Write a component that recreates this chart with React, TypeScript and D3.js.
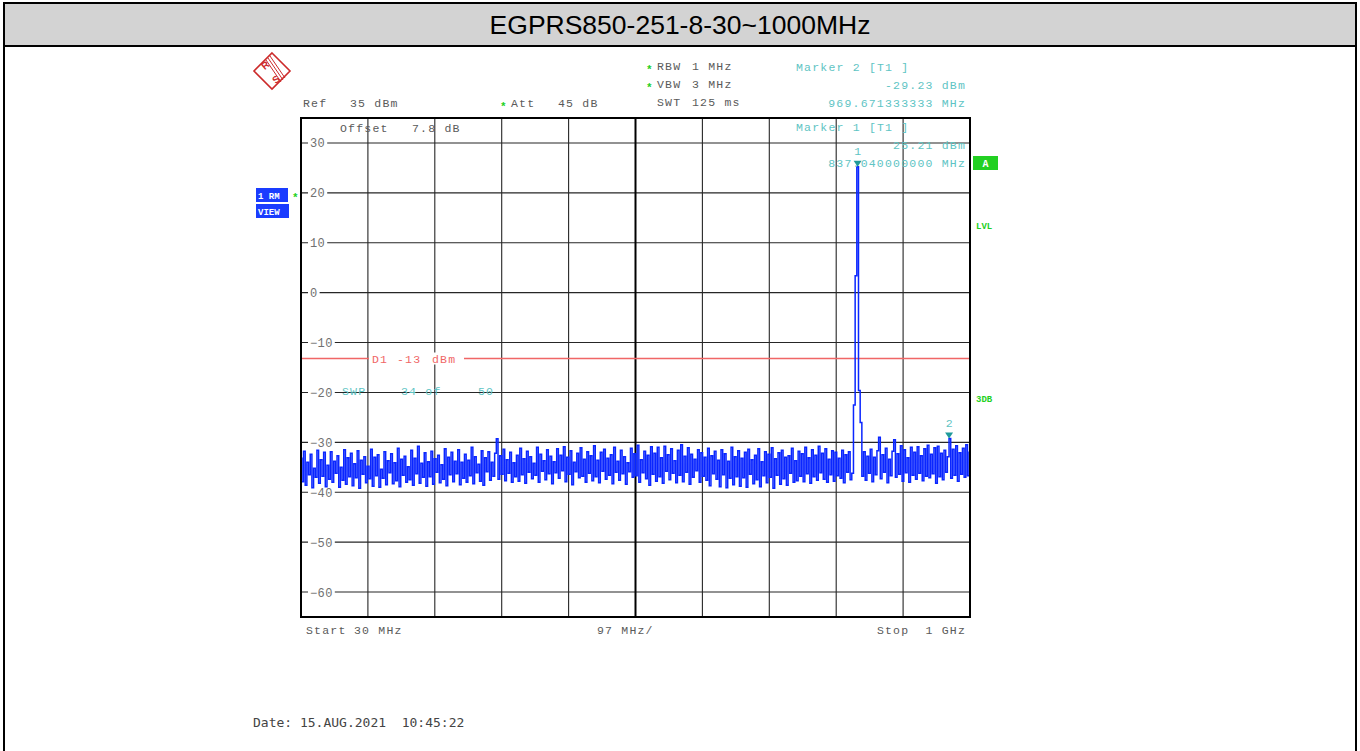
import * as d3 from "d3";

// sweep settings
const startMHz = 30;
const stopMHz = 1000;
const refLevel = 35;
const bottomLevel = -65;
const yTicks = [30, 20, 10, 0, -10, -20, -30, -40, -50, -60];
const displayLine = -13;

// trace levels (dBm), 400 points evenly spread from 30 MHz to 1 GHz
const traceLevels = [
  -33.2,-37.9,-31.8,-38.6,-34.0,-36.5,-32.4,-39.1,-35.2,-37.0,
  -31.6,-38.2,-33.5,-36.8,-32.0,-38.9,-34.6,-37.4,-31.9,-38.0,
  -33.8,-36.2,-32.7,-39.0,-35.0,-37.6,-31.5,-38.4,-33.1,-36.9,
  -32.2,-38.7,-34.3,-37.1,-31.7,-39.2,-33.6,-36.4,-32.9,-38.1,
  -34.8,-37.3,-31.4,-38.8,-33.0,-36.7,-32.5,-39.0,-35.4,-37.2,
  -31.9,-38.5,-33.7,-36.1,-32.3,-38.3,-34.1,-37.7,-31.2,-38.9,
  -33.4,-36.6,-32.8,-38.0,-34.9,-37.5,-31.6,-38.6,-33.2,-36.3,
  -30.8,-38.2,-34.2,-37.0,-32.1,-38.8,-33.9,-36.9,-31.8,-38.4,
  -33.3,-36.0,-32.6,-38.1,-34.5,-37.4,-31.3,-38.7,-33.0,-36.5,
  -32.0,-37.9,-33.8,-36.3,-31.5,-38.5,-34.0,-37.2,-32.4,-38.0,
  -33.6,-36.7,-31.0,-38.3,-32.9,-36.1,-34.4,-37.8,-31.7,-38.6,
  -33.1,-35.9,-31.9,-37.6,-34.0,-36.8,-32.2,-29.3,-37.4,-32.7,
  -36.4,-31.4,-37.7,-33.5,-36.2,-32.0,-38.0,-34.1,-36.9,-32.6,
  -37.8,-31.2,-36.5,-33.3,-38.2,-31.8,-36.0,-32.9,-37.3,-34.2,
  -36.6,-31.0,-38.0,-32.4,-35.8,-33.7,-37.5,-31.5,-36.3,-32.8,
  -38.3,-33.9,-36.1,-31.3,-37.2,-32.6,-35.7,-30.9,-37.9,-33.0,
  -36.4,-31.7,-38.5,-34.0,-35.9,-32.2,-37.1,-31.1,-36.8,-33.4,
  -38.0,-31.9,-36.2,-32.7,-37.7,-30.7,-36.9,-33.6,-38.1,-32.0,
  -35.8,-31.4,-37.4,-33.2,-36.6,-32.5,-38.3,-31.0,-36.0,-33.8,
  -37.6,-31.6,-36.3,-32.9,-38.4,-34.1,-35.9,-31.2,-37.0,-32.3,
  -36.7,-30.6,-38.0,-33.5,-36.1,-31.8,-37.3,-32.6,-38.6,-30.9,
  -36.4,-32.2,-37.8,-31.0,-36.9,-33.1,-38.2,-30.8,-35.8,-32.5,
  -37.5,-31.3,-36.2,-33.7,-38.1,-31.6,-36.6,-30.5,-37.9,-32.8,
  -36.0,-31.1,-38.4,-32.4,-37.0,-33.4,-35.7,-31.5,-38.0,-32.1,
  -36.8,-33.0,-37.6,-31.2,-38.7,-32.7,-36.3,-31.8,-37.4,-33.6,
  -38.9,-31.5,-36.5,-32.3,-39.1,-33.8,-37.2,-31.0,-38.5,-32.9,
  -36.9,-31.7,-38.8,-33.2,-37.1,-32.0,-39.0,-31.4,-36.4,-33.5,
  -38.3,-32.6,-37.5,-31.3,-38.9,-33.9,-36.7,-31.9,-38.1,-32.4,
  -37.0,-31.1,-39.2,-33.3,-36.6,-32.1,-38.4,-31.6,-37.3,-33.0,
  -38.6,-32.7,-36.2,-31.2,-38.0,-33.7,-37.7,-31.8,-36.8,-32.3,
  -37.9,-31.0,-36.3,-33.1,-38.2,-31.5,-36.9,-32.6,-37.6,-30.8,
  -36.1,-32.2,-37.4,-31.3,-38.0,-33.4,-36.5,-31.7,-37.8,-32.0,
  -36.7,-33.2,-37.2,-31.6,-38.1,-32.5,-36.0,-31.9,-37.5,-36.2,
  -22.5,3.4,25.21,-19.6,-26.0,
  -36.8,-31.9,-37.6,-32.8,-36.2,-31.4,-37.9,-33.0,-36.5,-31.7,
  -29.0,-37.3,-32.5,-36.0,-31.2,-38.1,-33.4,-36.7,-31.8,-29.5,
  -37.0,-32.3,-36.4,-30.7,-37.8,-31.5,-36.1,-33.1,-38.0,-31.0,
  -36.6,-32.0,-37.4,-30.9,-36.2,-32.7,-37.7,-31.3,-36.8,-30.6,
  -37.1,-32.4,-36.3,-31.1,-38.2,-30.8,-36.9,-32.2,-37.5,-31.6,
  -36.0,-32.9,-29.23,-37.2,-31.4,-36.6,-30.7,-37.8,-32.1,-36.4,
  -31.2,-37.0,-30.5,-36.7,-32.0,
];

// markers
const markerIds = ["1", "2"];
const markerFreqs = [837.04, 969.671333333];
const markerLevels = [25.21, -29.23];

const mono = "'Liberation Mono', 'DejaVu Sans Mono', monospace";
const grey = "#5a5a5a";
const teal = "#5ec4c4";
const tealDark = "#1f9a9a";
const green = "#22d022";
const blue = "#0a26ff";
const red = "#f06666";

const plot = { left: 301, right: 970, top: 118, bottom: 617 };

function MonoText(props: {
  x: number;
  y: number;
  fill?: string;
  anchor?: string;
  children: any;
}) {
  return (
    <text
      x={props.x}
      y={props.y}
      fill={props.fill || grey}
      fontFamily={mono}
      fontSize={11.5}
      letterSpacing={1.2}
      textAnchor={props.anchor || "start"}
      style={{ whiteSpace: "pre" }}
    >
      {props.children}
    </text>
  );
}

function Star(props: { x: number; y: number }) {
  return (
    <text x={props.x} y={props.y} fill={green} fontFamily={mono} fontSize={11} fontWeight="bold">
      *
    </text>
  );
}

export default function App() {
  const x = d3.scaleLinear().domain([startMHz, stopMHz]).range([plot.left, plot.right]);
  const y = d3.scaleLinear().domain([bottomLevel, refLevel]).range([plot.bottom, plot.top]);

  const n = traceLevels.length;
  const traceFreqs = traceLevels.map((_, i) => startMHz + (i * (stopMHz - startMHz)) / (n - 1));
  const tracePath = d3
    .line<number>()
    .x((_, i) => x(traceFreqs[i]))
    .y((d) => y(d))
    .curve(d3.curveStep)(traceLevels) as string;

  const vLines = d3.range(1, 10).map((k) => startMHz + (k * (stopMHz - startMHz)) / 10);
  const dy = Math.round(y(displayLine)) + 0.5;

  return (
    <svg
      width={1360}
      height={751}
      style={{ position: "absolute", left: 0, top: 0, display: "block", background: "#fff" }}
    >
      {/* page frame and title bar */}
      <rect x={4} y={3} width={1352} height={42} fill="#d3d3d3" />
      <line x1={3} y1={3} x2={1357} y2={3} stroke="#000" strokeWidth={2} />
      <line x1={3} y1={46} x2={1357} y2={46} stroke="#000" strokeWidth={2} />
      <line x1={4} y1={2} x2={4} y2={751} stroke="#000" strokeWidth={2} />
      <line x1={1356} y1={2} x2={1356} y2={751} stroke="#000" strokeWidth={2} />
      <text
        x={680}
        y={34}
        textAnchor="middle"
        fontFamily="'Liberation Sans', Arial, sans-serif"
        fontSize={26.5}
        fill="#000"
      >
        EGPRS850-251-8-30~1000MHz
      </text>

      {/* R&S logo */}
      <g stroke="#cc2a2a" fill="none">
        <polygon points="272,53 290,71 272,89 254,71" strokeWidth={1.6} fill="#fff" />
        <line x1={266} y1={60} x2={281} y2={82} strokeWidth={1} />
        <line x1={268} y1={58} x2={283} y2={80} strokeWidth={1} />
        <line x1={270} y1={56} x2={285} y2={78} strokeWidth={1} />
      </g>
      <text x={262} y={69} fill="#cc2a2a" fontFamily="'Liberation Sans', sans-serif" fontSize={10} fontWeight="bold" transform="rotate(-40 265 66)">
        R
      </text>
      <text x={273} y={83} fill="#cc2a2a" fontFamily="'Liberation Sans', sans-serif" fontSize={10} fontWeight="bold" transform="rotate(-40 276 80)">
        S
      </text>

      {/* header settings */}
      <Star x={646} y={73} />
      <MonoText x={657} y={70}>RBW</MonoText>
      <MonoText x={692} y={70}>1 MHz</MonoText>
      <Star x={646} y={91} />
      <MonoText x={657} y={88}>VBW</MonoText>
      <MonoText x={692} y={88}>3 MHz</MonoText>
      <MonoText x={657} y={106}>SWT</MonoText>
      <MonoText x={692} y={106}>125 ms</MonoText>
      <MonoText x={303} y={107}>Ref</MonoText>
      <MonoText x={350} y={107}>35 dBm</MonoText>
      <Star x={500} y={110} />
      <MonoText x={511} y={107}>Att</MonoText>
      <MonoText x={558} y={107}>45 dB</MonoText>

      <MonoText x={796} y={71} fill={teal}>Marker 2 [T1 ]</MonoText>
      <MonoText x={966} y={89} fill={teal} anchor="end">-29.23 dBm</MonoText>
      <MonoText x={966} y={107} fill={teal} anchor="end">969.671333333 MHz</MonoText>

      {/* grid */}
      {yTicks.map((t) => (
        <line key={"h" + t} x1={plot.left} x2={plot.right} y1={y(t)} y2={y(t)} stroke="#262626" strokeWidth={1.1} />
      ))}
      {vLines.map((f, i) => (
        <line
          key={"v" + i}
          x1={x(f)}
          x2={x(f)}
          y1={plot.top}
          y2={plot.bottom}
          stroke={i === 4 ? "#000" : "#262626"}
          strokeWidth={i === 4 ? 2 : 1.1}
        />
      ))}
      {yTicks.map((t) => {
        const label = t < 0 ? "\u2212" + Math.abs(t) : String(t);
        return (
          <g key={"l" + t}>
            <rect x={308} y={y(t) - 5} width={label.length * 7.6 + 4} height={10} fill="#fff" />
            <text x={310} y={y(t) + 4.5} fill="#707070" fontFamily={mono} fontSize={12} letterSpacing={0.4}>
              {label}
            </text>
          </g>
        );
      })}

      {/* display line */}
      <line x1={plot.left} x2={plot.right} y1={dy} y2={dy} stroke={red} strokeWidth={1.4} />
      <rect x={369} y={dy - 6} width={95} height={12} fill="#fff" />
      <MonoText x={372} y={dy + 4} fill={red}>D1</MonoText>
      <MonoText x={397} y={dy + 4} fill={red}>-13</MonoText>
      <MonoText x={432} y={dy + 4} fill={red}>dBm</MonoText>

      <MonoText x={340} y={132}>Offset</MonoText>
      <MonoText x={412} y={132}>7.8 dB</MonoText>
      <MonoText x={342} y={395} fill={teal}>SWP</MonoText>
      <MonoText x={401} y={395} fill={teal}>34 of</MonoText>
      <MonoText x={478} y={395} fill={teal}>50</MonoText>

      {/* trace */}
      <path d={tracePath} fill="none" stroke={blue} strokeWidth={1.5} strokeLinecap="square" />

      {/* marker 1 readout sits over the grid */}
      <MonoText x={796} y={131} fill={teal}>Marker 1 [T1 ]</MonoText>
      <MonoText x={966} y={149} fill={teal} anchor="end">25.21 dBm</MonoText>
      <MonoText x={966} y={167} fill={teal} anchor="end">837.040000000 MHz</MonoText>

      {markerIds.map((id, i) => {
        const mx = x(markerFreqs[i]);
        const my = y(markerLevels[i]);
        return (
          <g key={"m" + id}>
            <path d={`M${mx - 4},${my - 6}L${mx + 4},${my - 6}L${mx},${my}Z`} fill={tealDark} />
            <text x={mx} y={my - 12} textAnchor="middle" fill={teal} fontFamily={mono} fontSize={11.5}>
              {id}
            </text>
          </g>
        );
      })}

      {/* plot frame */}
      <rect
        x={plot.left}
        y={plot.top}
        width={plot.right - plot.left}
        height={plot.bottom - plot.top}
        fill="none"
        stroke="#000"
        strokeWidth={2}
      />

      {/* side annotations */}
      <rect x={256} y={188} width={32} height={14} fill="#1a3cff" />
      <text x={258} y={199} fill="#fff" fontFamily={mono} fontSize={9} fontWeight="bold" style={{ whiteSpace: "pre" }}>
        1 RM
      </text>
      <rect x={256} y={204} width={33} height={14} fill="#1a3cff" />
      <text x={258} y={215} fill="#fff" fontFamily={mono} fontSize={9} fontWeight="bold">
        VIEW
      </text>
      <Star x={292} y={201} />

      <rect x={973} y={156} width={25} height={14} fill={green} />
      <text x={985.5} y={167} textAnchor="middle" fill="#fff" fontFamily={mono} fontSize={10} fontWeight="bold">
        A
      </text>
      <text x={976} y={229} fill={green} fontFamily={mono} fontSize={9} fontWeight="bold">
        LVL
      </text>
      <text x={976} y={402} fill={green} fontFamily={mono} fontSize={9} fontWeight="bold">
        3DB
      </text>

      {/* footer */}
      <MonoText x={306} y={634}>Start</MonoText>
      <MonoText x={354} y={634}>30 MHz</MonoText>
      <MonoText x={597} y={634}>97 MHz/</MonoText>
      <MonoText x={966} y={634} anchor="end">Stop  1 GHz</MonoText>
      <text x={253} y={727} fill="#444" fontFamily="'DejaVu Sans Mono', monospace" fontSize={13} style={{ whiteSpace: "pre" }}>
        Date: 15.AUG.2021  10:45:22
      </text>
    </svg>
  );
}
